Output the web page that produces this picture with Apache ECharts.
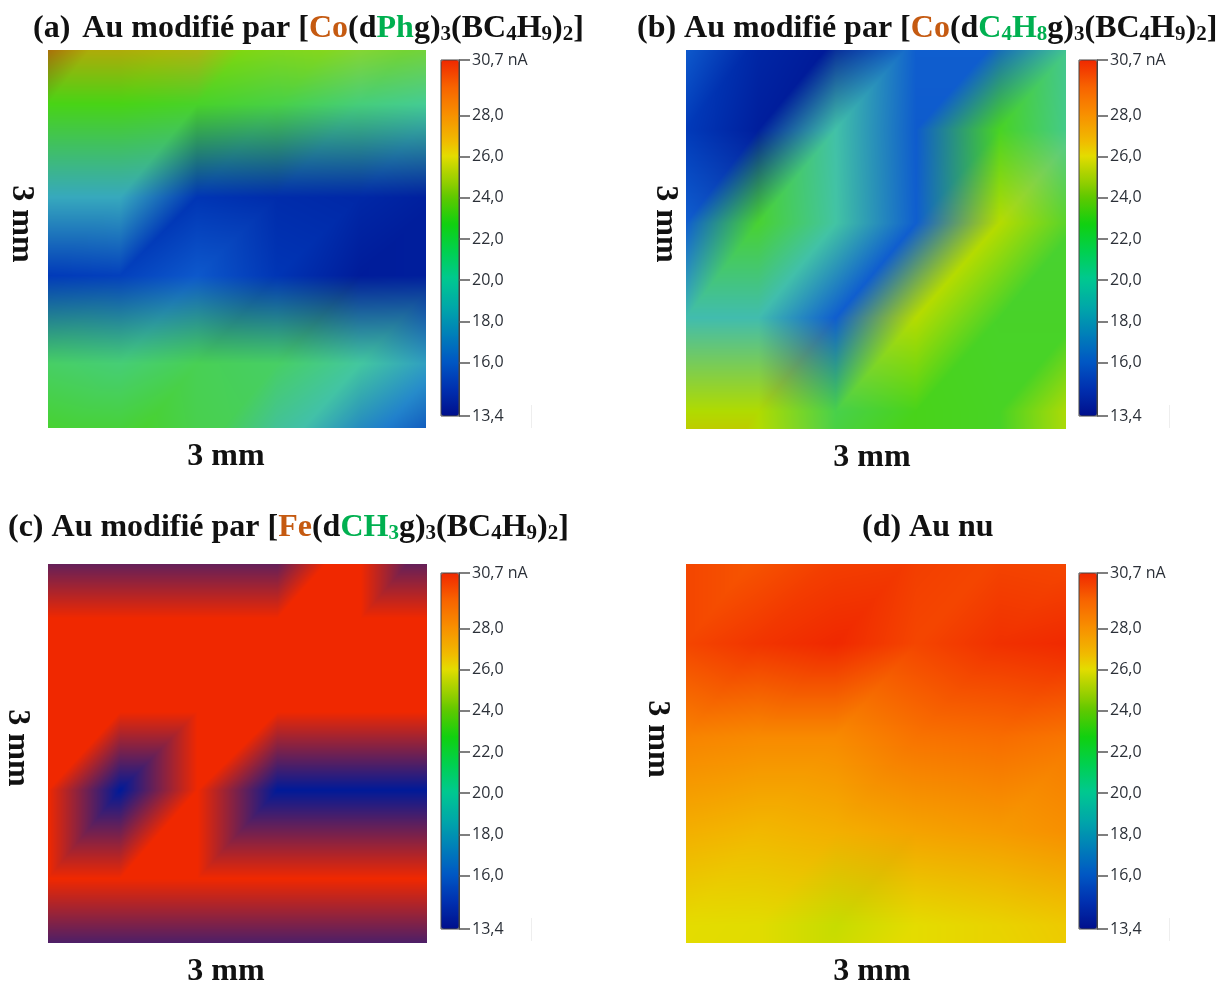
<!DOCTYPE html>
<html><head><meta charset="utf-8">
<style>html,body{margin:0;padding:0;background:#fff}#c{width:1219px;height:983px}</style>
<script src="https://cdn.jsdelivr.net/npm/echarts@6/dist/echarts.min.js"></script>
</head><body><div id="c"></div>
<script>
// colour scale (equally spaced between scaleMin and scaleMax)
const scaleMin = 13.4, scaleMax = 30.7;
const barColors = ['#000f8c','#00209e','#0030b0','#0044ba','#0058c4','#006cbe','#0080b8','#0094b0','#00a8a8','#00b89c','#00c890','#00cc70','#00d050','#08d030','#10d010','#38cc08','#60c800','#90ce00','#b8d400','#e4dc00','#f0bc00','#f4a600','#f89000','#f87a00','#f86400','#f44600','#f02800'];
const cellColors = ['#001a98','#0029a8','#0038b8','#084cc4','#1060d0','#1c78ce','#2890cc','#34a4c0','#40b8b4','#42c2a6','#44cc98','#46ce74','#48d050','#48d230','#48d410','#62d408','#7cd400','#9ad800','#b8dc00','#e4dc00','#f0c400','#f4a800','#f88c00','#f87600','#f86000','#f44400','#f02800'];
const tickValues = [13.4,16,18,20,22,24,26,28,30.7];

// measurement node positions (mm)
const xNodes = [0.00,0.571,1.183,1.817,2.476,3.111];
const yNodesAC = [-0.31,0.43,1.17,1.79,2.49,3.24];
const yNodesBD = [-0.10,0.63,1.37,2.12,2.86,3.60];

// current values (nA), rows top to bottom, columns left to right
const valuesA = [
 [30.7,28.0,27.6,25.0,25.2,24.6],
 [22.6,22.6,22.2,21.6,20.6,20.0],
 [18.2,18.2,14.6,14.2,14.0,13.6],
 [14.8,15.0,15.8,14.6,13.5,13.6],
 [21.0,20.7,21.3,21.0,19.7,17.6],
 [22.5,22.4,21.5,19.0,16.5,14.5]];
const valuesB = [
 [16.0,14.0,13.4,16.0,16.0,19.5],
 [14.8,13.6,19.3,15.9,22.3,19.8],
 [16.0,22.0,19.5,16.0,25.3,22.0],
 [19.0,19.0,16.0,25.3,22.2,22.2],
 [25.2,25.2,21.5,22.5,22.3,25.5],
 [28.0,25.5,22.4,22.5,22.0,24.0]];
const valuesC = [
 [13.4,13.4,13.4,13.4,30.7,13.4],
 [30.7,30.7,30.7,30.7,30.7,30.7],
 [30.7,30.7,30.7,30.7,30.7,30.7],
 [30.7,13.4,30.7,13.4,13.4,13.4],
 [30.7,30.7,30.7,30.7,30.7,30.7],
 [13.4,13.4,13.4,13.4,13.4,13.4]];
const valuesD = [
 [30.0,29.6,30.1,30.2,30.0,29.9],
 [30.0,30.4,30.7,30.0,30.5,30.7],
 [28.3,28.1,28.1,28.8,29.0,28.7],
 [27.2,27.0,27.2,27.5,27.7,28.0],
 [26.05,26.0,25.6,26.05,26.3,26.6],
 [26.0,26.0,25.9,26.05,26.1,26.2]];

const titles = [
 '{t|(a) }{h| }{t|Au modifié par [}{m|Co}{t|(d}{l|Ph}{t|g)}{s|3}{t|(BC}{s|4}{t|H}{s|9}{t|)}{s|2}{t|]}',
 '{t|(b) Au modifié par [}{m|Co}{t|(d}{l|C}{g|4}{l|H}{g|8}{t|g)}{s|3}{t|(BC}{s|4}{t|H}{s|9}{t|)}{s|2}{t|]}',
 '{t|(c) Au modifié par [}{m|Fe}{t|(d}{l|CH}{g|3}{t|g)}{s|3}{t|(BC}{s|4}{t|H}{s|9}{t|)}{s|2}{t|]}',
 '{t|(d) Au nu}'];
const axisLabelText = '3 mm';

const serif = '"Liberation Serif","Times New Roman",serif';
const titleSize = 32, subSize = 21;
const rich = {
 t:{fontFamily:serif,fontWeight:'bold',fontSize:titleSize,color:'#111'},
 h:{fontFamily:serif,fontWeight:'bold',fontSize:16,color:'#111'},
 m:{fontFamily:serif,fontWeight:'bold',fontSize:titleSize,color:'#c55a11'},
 l:{fontFamily:serif,fontWeight:'bold',fontSize:titleSize,color:'#00b050'},
 s:{fontFamily:serif,fontWeight:'bold',fontSize:subSize,color:'#111',padding:[11,0,0,0]},
 g:{fontFamily:serif,fontWeight:'bold',fontSize:subSize,color:'#00b050',padding:[11,0,0,0]}
};

const panels = [
 {vals:valuesA,ys:yNodesAC,left:48,top:50,w:378,h:378,tl:33,tt:13,xl:[226,457],yl:[21,224]},
 {vals:valuesB,ys:yNodesBD,left:686,top:50,w:380,h:379,tl:637,tt:13,xl:[872,458],yl:[665,224]},
 {vals:valuesC,ys:yNodesAC,left:48,top:564,w:379,h:379,tl:8,tt:512,xl:[226,972],yl:[17,748]},
 {vals:valuesD,ys:yNodesBD,left:686,top:564,w:380,h:379,tl:862,tt:512,xl:[872,972],yl:[657,739]}
];
const bars = [{left:441,top:60},{left:1079,top:60},{left:441,top:573},{left:1079,top:573}];

function hex(c){return [1,3,5].map(i=>parseInt(c.substr(i,2),16));}
const cellRgb = cellColors.map(hex);
function colorOf(v){
 const t = Math.max(0,Math.min(1,(v-scaleMin)/(scaleMax-scaleMin)))*(cellRgb.length-1);
 const i = Math.min(cellRgb.length-2,Math.floor(t)), f=t-i;
 return cellRgb[i].map((a,k)=>a+(cellRgb[i+1][k]-a)*f);
}
function cellsOf(p){
 const out=[];
 for(let j=0;j<p.ys.length-1;j++)for(let i=0;i<xNodes.length-1;i++)
  out.push([xNodes[i],xNodes[i+1],p.ys[j],p.ys[j+1],p.vals[j][i],p.vals[j][i+1],p.vals[j+1][i],p.vals[j+1][i+1]]);
 return out;
}
// Each cell is two triangles with colours shaded between the node colours
function renderCell(params,api){
 const a=api.coord([api.value(0),api.value(2)]), b=api.coord([api.value(1),api.value(3)]);
 const cs=params.coordSys;
 const L=Math.round(Math.max(a[0],cs.x)),R=Math.round(Math.min(b[0],cs.x+cs.width));
 const T=Math.round(Math.max(a[1],cs.y)),B=Math.round(Math.min(b[1],cs.y+cs.height));
 if(R<=L||B<=T) return null;
 const c00=colorOf(api.value(4)),c10=colorOf(api.value(5)),c01=colorOf(api.value(6)),c11=colorOf(api.value(7));
 const cv=document.createElement('canvas');cv.width=R-L;cv.height=B-T;
 const ctx=cv.getContext('2d'),im=ctx.createImageData(R-L,B-T);
 for(let y=T;y<B;y++)for(let x=L;x<R;x++){
  const u=(x+.5-a[0])/(b[0]-a[0]),v=(y+.5-a[1])/(b[1]-a[1]);
  const o=((y-T)*(R-L)+(x-L))*4;
  for(let k=0;k<3;k++){
   im.data[o+k]=(u+v<=1)?c00[k]*(1-u-v)+c10[k]*u+c01[k]*v:c11[k]*(u+v-1)+c10[k]*(1-v)+c01[k]*(1-u);
  }
  im.data[o+3]=255;
 }
 ctx.putImageData(im,0,0);
 return {type:'image',silent:true,style:{image:cv,x:L,y:T,width:R-L,height:B-T}};
}
const labelFont='"Open Sans","Noto Sans",sans-serif';
const option={
 animation:false,backgroundColor:'#fff',
 title:panels.map((p,i)=>({text:titles[i],left:p.tl,top:p.tt,padding:0,textStyle:{rich}})),
 grid:[
  ...panels.map(p=>({left:p.left,top:p.top,width:p.w,height:p.h,show:false})),
  ...bars.map(b=>({left:b.left,top:b.top,width:18,height:356,show:true,z:8,borderColor:'#444',borderWidth:1,backgroundColor:'transparent'}))
 ],
 xAxis:[
  ...panels.map((p,i)=>({gridIndex:i,type:'value',min:0,max:3,show:false})),
  ...bars.map((b,i)=>({gridIndex:i+4,type:'value',min:0,max:1,show:false}))
 ],
 yAxis:[
  ...panels.map((p,i)=>({gridIndex:i,type:'value',min:0,max:3,inverse:true,show:false})),
  ...bars.map((b,i)=>({gridIndex:i+4,type:'value',min:scaleMin,max:scaleMax,position:'right',z:9,
    axisLine:{show:true,onZero:false,lineStyle:{color:'#444'}},
    axisTick:{show:true,length:11,customValues:tickValues,lineStyle:{color:'#555',width:1.5}},
    axisLabel:{show:true,margin:13,customValues:tickValues,color:'#2b3038',fontFamily:labelFont,fontSize:16,padding:[2,0,0,0],showMinLabel:true,showMaxLabel:true,
      formatter:v=>(Math.abs(v-scaleMax)<1e-6?'30,7 nA':v.toFixed(1).replace('.',','))},
    splitLine:{show:false}}))
 ],
 visualMap:bars.map((b,i)=>({type:'continuous',seriesIndex:i,dimension:4,min:scaleMin,max:scaleMax,show:true,calculable:false,hoverLink:false,
   left:b.left,top:b.top,itemWidth:18,itemHeight:356,padding:0,text:['',''],showLabel:false,textStyle:{fontSize:0},inRange:{color:barColors},z:4})),
 series:panels.map((p,i)=>({type:'custom',xAxisIndex:i,yAxisIndex:i,renderItem:renderCell,data:cellsOf(p),
   dimensions:['x0','x1','y0','y1','v00','v10','v01','v11'],encode:{x:[0,1],y:[2,3]},silent:true,tooltip:{show:false}})),
 graphic:[
  ...panels.flatMap(p=>[
   {type:'text',x:p.xl[0],y:p.xl[1],style:{text:axisLabelText,align:'center',verticalAlign:'middle',font:'bold '+titleSize+'px '+serif,fill:'#111'}},
   {type:'text',x:p.yl[0],y:p.yl[1],rotation:-Math.PI/2,style:{text:axisLabelText,align:'center',verticalAlign:'middle',font:'bold '+titleSize+'px '+serif,fill:'#111'}}
  ]),
  ...bars.map(b=>({type:'line',shape:{x1:b.left+90.5,y1:b.top+345,x2:b.left+90.5,y2:b.top+368},style:{stroke:'#eeeeee',lineWidth:1}}))
 ]
};
const chart=echarts.init(document.getElementById('c'),null,{renderer:'canvas',width:1219,height:983});
chart.setOption(option);
</script></body></html>
